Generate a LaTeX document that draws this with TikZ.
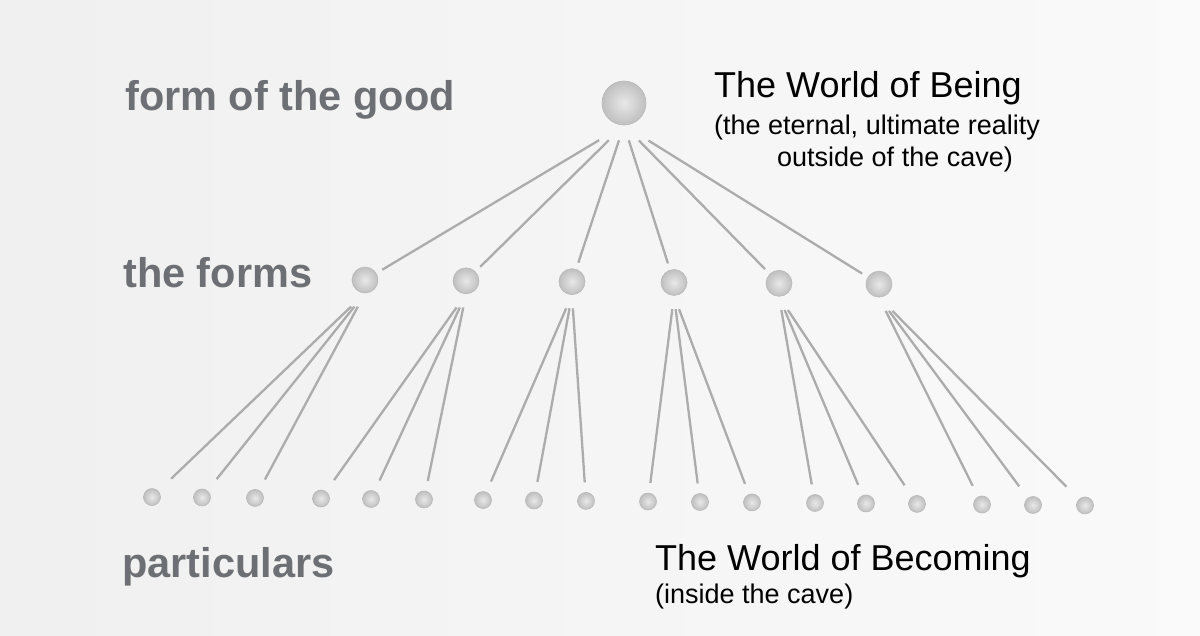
\documentclass[tikz,border=0pt]{standalone}
\usepackage{fontspec}
\setmainfont{Liberation Sans}
\usepackage{tikz}
\usetikzlibrary{calc}
\definecolor{labelgray}{RGB}{108,112,116}
\definecolor{linegray}{RGB}{172,172,172}
\tikzset{
  sphere/.style={circle, inner sep=0pt, draw=gray!55, line width=0.6pt, inner color=gray!18, outer color=gray!50},
  link/.style={draw=linegray, line width=2.3pt},
  levellabel/.style={anchor=base west, inner sep=0pt, text=labelgray, font=\fontsize{41.5}{42}\selectfont\bfseries},
  worldtitle/.style={anchor=base west, inner sep=0pt, font=\fontsize{36}{36}\selectfont},
  worldnote/.style={anchor=base west, inner sep=0pt, font=\fontsize{27}{27}\selectfont},
}

\begin{document}
\begin{tikzpicture}[x=1pt,y=-1pt]
			\useasboundingbox (0,0) rectangle (1200,635);
			\fill[left color=black!6, right color=black!2] (0,0) rectangle (1200,635);
			% the three levels
			\node[sphere, minimum size=44pt] (good) at (624,103) {};
			\foreach \x [count=\i] in {365,466,572,674,779,879}
				\node[sphere, minimum size=26pt] (form\i) at (\x,{280+0.008*(\x-365)}) {};
			\foreach \x [count=\i] in {152,202,255,321,371,424,483,534,586,648,700,752,815,866,917,982,1033,1085}
				\node[sphere, minimum size=17pt] (part\i) at (\x,{497+0.009*(\x-150)}) {};
			% links
			\foreach \i in {1,...,6}
				\draw[link, shorten >=20pt] ($(good.south)!0.096!(form\i)$) -- (form\i.center);
			\foreach \i in {1,...,6}
				\foreach \j in {1,2,3} {
					\pgfmathtruncatemacro\p{3*(\i-1)+\j}
					\draw[link] ($(form\i.south)!0.065!(part\p)$) -- ($(form\i.south)!0.91!(part\p)$);
				}
			% labels
			\node[levellabel] (goodlabel) at (125,110) {form of the good};
			\node[levellabel] (formslabel) at (123,287) {the forms};
			\node[levellabel] (partslabel) at (122,577) {particulars};
			\node[worldtitle] (being) at (714,97) {The World of Being};
			\node[worldnote] (beingnote) at (714,134) {(the eternal, ultimate reality};
			\node[worldnote] (beingnotetwo) at (777,166) {outside of the cave)};
			\node[worldtitle] (becoming) at (655,570) {The World of Becoming};
			\node[worldnote] (becomingnote) at (655,603) {(inside the cave)};
		\end{tikzpicture}
\end{document}
